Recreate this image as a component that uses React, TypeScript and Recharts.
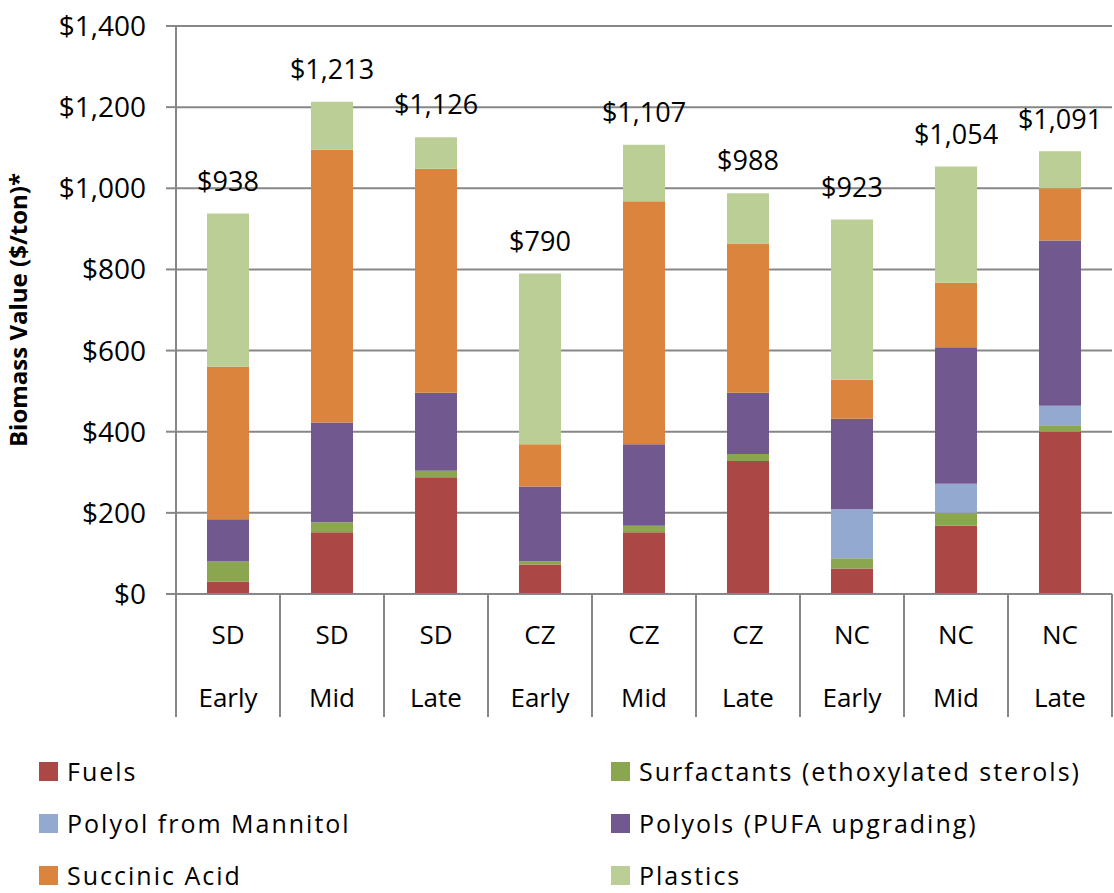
import React from 'react';
import { BarChart, Bar, XAxis, YAxis, CartesianGrid, LabelList } from 'recharts';

const regions = ['SD', 'SD', 'SD', 'CZ', 'CZ', 'CZ', 'NC', 'NC', 'NC'];
const seasons = ['Early', 'Mid', 'Late', 'Early', 'Mid', 'Late', 'Early', 'Mid', 'Late'];

const fuels = [31, 152, 288, 73, 152, 328, 63, 168, 400];
const surfactants = [49, 25, 16, 8, 16, 17, 25, 32, 16];
const mannitolPolyol = [0, 0, 0, 0, 0, 0, 121, 72, 48];
const pufaPolyols = [104, 246, 192, 184, 201, 151, 223, 336, 407];
const succinicAcid = [376, 672, 552, 104, 599, 368, 96, 159, 129];
const plastics = [378, 118, 78, 421, 139, 124, 395, 287, 91];
const totals = [938, 1213, 1126, 790, 1107, 988, 923, 1054, 1091];

const yTicks = [0, 200, 400, 600, 800, 1000, 1200, 1400];

const SERIES = [
  { key: 'fuels', name: 'Fuels', color: '#AB4744' },
  { key: 'surfactants', name: 'Surfactants (ethoxylated sterols)', color: '#8AA64E' },
  { key: 'mannitol', name: 'Polyol from Mannitol', color: '#94A9D0' },
  { key: 'pufa', name: 'Polyols (PUFA upgrading)', color: '#71588F' },
  { key: 'succinic', name: 'Succinic Acid', color: '#DB843D' },
  { key: 'plastics', name: 'Plastics', color: '#BACE96' },
];

const data = regions.map((r, i) => ({
  id: `${r}-${seasons[i]}`,
  region: r,
  season: seasons[i],
  fuels: fuels[i],
  surfactants: surfactants[i],
  mannitol: mannitolPolyol[i],
  pufa: pufaPolyols[i],
  succinic: succinicAcid[i],
  plastics: plastics[i],
  total: totals[i],
}));

const FONT = '"Open Sans", sans-serif';
const GRID = '#878787';
const W = 1114;
const H = 893;
const LEFT = 176;
const RIGHT = 2;
const BAND = (W - LEFT - RIGHT) / data.length;

const money = (v: number) => `$${v.toLocaleString('en-US')}`;

function CategoryTick(props: any) {
  const { x, y, index } = props;
  const d = data[index];
  const left = x - BAND / 2;
  return (
    <g>
      <line x1={left} y1={y} x2={left} y2={y + 123} stroke={GRID} strokeWidth={2} />
      {index === data.length - 1 && (
        <line x1={left + BAND} y1={y} x2={left + BAND} y2={y + 123} stroke={GRID} strokeWidth={2} />
      )}
      <text x={x} y={y + 43} textAnchor="middle" dominantBaseline="middle" fontSize={26} fontFamily={FONT} fill="#000">
        {d.region}
      </text>
      <text x={x} y={y + 106} textAnchor="middle" dominantBaseline="middle" fontSize={26} fontFamily={FONT} fill="#000">
        {d.season}
      </text>
    </g>
  );
}

function TotalLabel(props: any) {
  const { x, y, width, index } = props;
  return (
    <text x={x + width / 2} y={y - 30} textAnchor="middle" dominantBaseline="middle" fontSize={27} fontFamily={FONT} fill="#000">
      {money(data[index].total)}
    </text>
  );
}

export default function App() {
  return (
    <div style={{ position: 'absolute', left: 0, top: 0, width: W, height: H, background: '#fff', overflow: 'hidden' }}>
      <BarChart
        width={W}
        height={H}
        data={data}
        margin={{ top: 26, right: RIGHT, left: 0, bottom: 174 }}
        barSize={42}
      >
        <CartesianGrid vertical={false} stroke={GRID} strokeWidth={2} />
        <XAxis
          dataKey="id"
          height={125}
          axisLine={{ stroke: GRID, strokeWidth: 2 }}
          tickLine={false}
          tickSize={0}
          tickMargin={0}
          interval={0}
          tick={<CategoryTick />}
        />
        <YAxis
          width={LEFT}
          domain={[0, 1400]}
          ticks={yTicks}
          tickFormatter={money}
          axisLine={{ stroke: GRID, strokeWidth: 2 }}
          tickLine={{ stroke: GRID, strokeWidth: 2 }}
          tickSize={10}
          tickMargin={20}
          tick={{ fontSize: 28, fontFamily: FONT, fill: '#000' }}
          label={{
            value: 'Biomass Value ($/ton)*',
            angle: -90,
            position: 'insideLeft',
            offset: 18,
            style: { fontSize: 24, fontWeight: 700, fontFamily: FONT, fill: '#000', textAnchor: 'middle' },
          }}
        />
        {SERIES.map((s, i) => (
          <Bar key={s.key} dataKey={s.key} name={s.name} stackId="a" fill={s.color} isAnimationActive={false}>
            {i === SERIES.length - 1 && <LabelList dataKey="total" content={<TotalLabel />} />}
          </Bar>
        ))}
      </BarChart>
      {SERIES.map((s, i) => {
        const col = i % 2;
        const row = Math.floor(i / 2);
        return (
          <div
            key={s.key}
            style={{
              position: 'absolute',
              left: col === 0 ? 39 : 611,
              top: 771 + row * 52 - 14,
              height: 28,
              lineHeight: '28px',
              display: 'flex',
              alignItems: 'center',
              fontFamily: FONT,
              fontSize: 25,
              letterSpacing: 2,
              color: '#000',
              whiteSpace: 'nowrap',
            }}
          >
            <span style={{ display: 'inline-block', width: 19, height: 19, background: s.color, marginRight: 9 }} />
            {s.name}
          </div>
        );
      })}
    </div>
  );
}
